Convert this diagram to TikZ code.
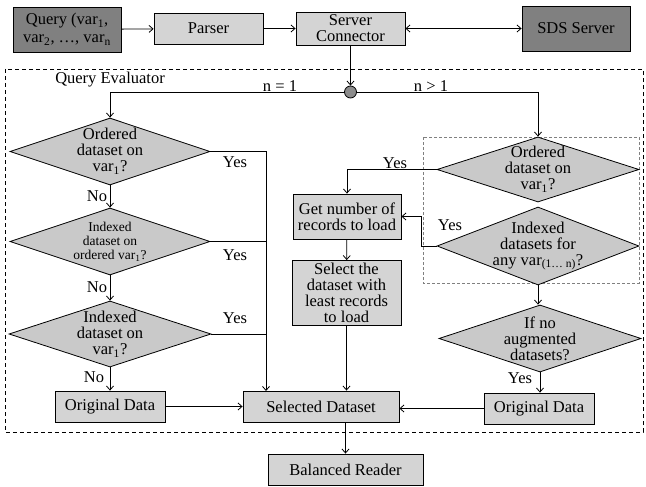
\documentclass[tikz,border=0pt]{standalone}
\usepackage{fontspec}
\setmainfont{Liberation Serif}
\usetikzlibrary{shapes.geometric,arrows.meta}
\definecolor{darkbox}{gray}{0.50}
\definecolor{lightbox}{gray}{0.83}
\definecolor{decfill}{gray}{0.79}
\definecolor{joinfill}{gray}{0.55}

\begin{document}
\begin{tikzpicture}[x=1pt, y=-1pt, line width=0.8pt, >={Straight Barb[length=4pt,width=7pt]},
   every node/.style={font=\fontsize{16.5}{16}\selectfont},
   block/.style={rectangle, draw, fill=lightbox, align=center, inner sep=0pt},
   darkblock/.style={block, fill=darkbox},
   decision/.style={diamond, draw, fill=decfill, aspect=3, inner sep=-8pt, align=center},
   lbl/.style={inner sep=1pt}]
   \useasboundingbox (0,0) rectangle (646,487);

   % query evaluator frame
   \draw[dashed, dash pattern=on 4pt off 3pt] (5,69) rectangle (643,432);
   \draw[gray, line width=0.5pt, densely dashed] (423,137) rectangle (639,283);
   \node[lbl] (qeval) at (110,80) {Query Evaluator};

   % top row
   \node[darkblock, minimum width=108, minimum height=45, font=\fontsize{16.5}{18}\selectfont] (query) at (67,29.5) {Query (var\textsubscript{1},\\var\textsubscript{2}, …, var\textsubscript{n}};
   \node[block, minimum width=109, minimum height=31] (parser) at (208.5,28.5) {Parser};
   \node[block, minimum width=109, minimum height=33] (conn) at (350.5,28.5) {Server\\Connector};
   \node[darkblock, minimum width=108, minimum height=45] (sds) at (576,28.5) {SDS Server};
   \node[circle, draw, fill=joinfill, minimum size=12, inner sep=0pt] (join) at (350.5,92) {};

   % n = 1 branch
   \node[decision, minimum width=200, minimum height=67] (d1) at (110,151.5) {Ordered\\dataset on\\var\textsubscript{1}?};
   \node[decision, minimum width=200, minimum height=67, font=\fontsize{13.5}{14}\selectfont] (d2) at (110,241.5) {Indexed\\dataset on\\ordered var\textsubscript{1}?};
   \node[decision, minimum width=202, minimum height=66] (d3) at (110,334) {Indexed\\dataset on\\var\textsubscript{1}?};
   \node[block, minimum width=110, minimum height=31] (orig1) at (110,406.5) {Original Data};
   \node[block, minimum width=156, minimum height=31] (seld) at (321,406.5) {Selected Dataset};
   \node[block, minimum width=155, minimum height=31] (reader) at (345.5,469.5) {Balanced Reader};
   \coordinate (yesin) at (266,391);

   % n > 1 branch
   \node[decision, minimum width=202, minimum height=65] (r1) at (538,169.5) {Ordered\\dataset on\\var\textsubscript{1}?};
   \node[decision, minimum width=202, minimum height=78] (r2) at (538,246) {Indexed\\datasets for\\any var\textsubscript{(1… n)}?};
   \node[decision, minimum width=202, minimum height=67] (r3) at (540,338.5) {If no\\augmented\\datasets?};
   \node[block, minimum width=110, minimum height=31] (orig2) at (539,408.5) {Original Data};
   \node[block, minimum width=108, minimum height=45] (get) at (347,216.5) {Get number of\\records to load};
   \node[block, minimum width=109, minimum height=65] (pick) at (346.5,293) {Select the\\dataset with\\least records\\to load};

   % labels
   \node[lbl] (n1) at (280,86) {n = 1};
   \node[lbl] (nn) at (431,86) {n > 1};
   \node[lbl] (yes1) at (235,162) {Yes};
   \node[lbl] (yes2) at (235,255) {Yes};
   \node[lbl] (yes3) at (235,318) {Yes};
   \node[lbl] (no1) at (97,196) {No};
   \node[lbl] (no2) at (97,287) {No};
   \node[lbl] (no3) at (94,377) {No};
   \node[lbl] (yes4) at (395,163) {Yes};
   \node[lbl] (yes5) at (450,225) {Yes};
   \node[lbl] (yes6) at (520,378) {Yes};

   % connectors
   \draw[->] (query) -- (parser);
   \draw[->] (parser) -- (conn);
   \draw[<->] (conn) -- (sds);
   \draw[->] (conn) -- (join);
   \draw[->] (join) -| (d1);
   \draw[->] (join) -| (r1);
   \draw[->] (d1) -- (d2);
   \draw[->] (d2) -- (d3);
   \draw[->] (d3) -- (orig1);
   \draw[->] (d1.east) -| (yesin);
   \draw (d2.east) -- (d2.east -| yesin);
   \draw (d3.east) -- (d3.east -| yesin);
   \draw[->] (orig1) -- (seld);
   \draw[->] (r1.west) -| (get.north);
   \draw[->] (r2.west) -- ++(-15,0) |- (get.east);
   \draw[->] (get) -- (pick);
   \draw[->] (pick.south) -- (pick.south |- seld.north);
   \draw[->] (r2.south) -- (r2.south |- r3.north);
   \draw[->] (r3.south) -- (r3.south |- orig2.north);
   \draw[->] (orig2.west) -- (orig2.west -| seld.east);
   \draw[->] (seld.south -| reader) -- (reader.north);
 \end{tikzpicture}
\end{document}
